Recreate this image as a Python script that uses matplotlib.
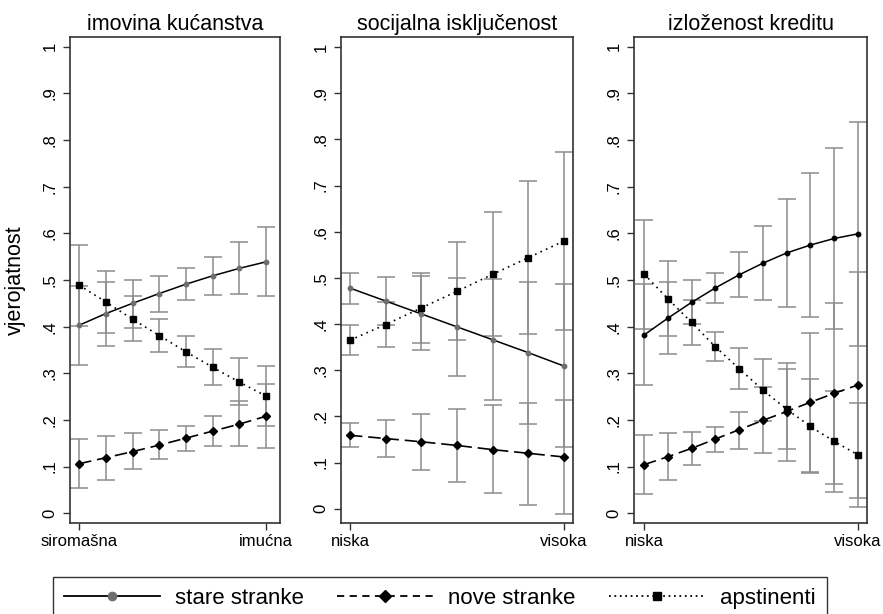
import numpy as np
import matplotlib
matplotlib.use("Agg")
import matplotlib.pyplot as plt
from matplotlib.lines import Line2D

plt.rcParams['font.family'] = ['Liberation Sans', 'DejaVu Sans']

# ===== DATA =====
titles = ["imovina kućanstva", "socijalna isključenost", "izloženost kreditu"]
end_labels = [("siromašna", "imućna"), ("niska", "visoka"), ("niska", "visoka")]
series_names = ["stare stranke", "nove stranke", "apstinenti"]
y_ticks = [0, 0.1, 0.2, 0.3, 0.4, 0.5, 0.6, 0.7, 0.8, 0.9, 1.0]
y_tick_labels = ["0", ".1", ".2", ".3", ".4", ".5", ".6", ".7", ".8", ".9", "1"]

# imovina kućanstva
stare1 = [0.403, 0.428, 0.450, 0.471, 0.491, 0.509, 0.525, 0.539]
stare1_lo = [0.318, 0.359, 0.398, 0.432, 0.457, 0.468, 0.470, 0.466]
stare1_hi = [0.488, 0.495, 0.501, 0.509, 0.525, 0.550, 0.581, 0.614]
nove1 = [0.106, 0.119, 0.132, 0.146, 0.161, 0.176, 0.191, 0.208]
nove1_lo = [0.053, 0.072, 0.094, 0.117, 0.134, 0.144, 0.145, 0.140]
nove1_hi = [0.160, 0.166, 0.172, 0.178, 0.188, 0.209, 0.240, 0.277]
apst1 = [0.489, 0.453, 0.416, 0.381, 0.346, 0.313, 0.281, 0.251]
apst1_lo = [0.402, 0.386, 0.369, 0.346, 0.314, 0.274, 0.231, 0.188]
apst1_hi = [0.576, 0.520, 0.466, 0.416, 0.379, 0.353, 0.333, 0.315]

# socijalna isključenost
stare2 = [0.478, 0.450, 0.422, 0.394, 0.366, 0.338, 0.309]
stare2_lo = [0.444, 0.398, 0.343, 0.288, 0.235, 0.183, 0.134]
stare2_hi = [0.511, 0.502, 0.504, 0.500, 0.497, 0.492, 0.487]
nove2 = [0.159, 0.152, 0.145, 0.137, 0.128, 0.120, 0.112]
nove2_lo = [0.133, 0.111, 0.084, 0.058, 0.033, 0.009, -0.012]
nove2_hi = [0.186, 0.193, 0.205, 0.216, 0.224, 0.230, 0.235]
apst2 = [0.365, 0.399, 0.435, 0.471, 0.508, 0.544, 0.580]
apst2_lo = [0.333, 0.350, 0.360, 0.366, 0.374, 0.379, 0.387]
apst2_hi = [0.397, 0.448, 0.510, 0.577, 0.642, 0.709, 0.772]

# izloženost kreditu
stare3 = [0.382, 0.418, 0.452, 0.483, 0.511, 0.536, 0.558, 0.575, 0.589, 0.599]
stare3_lo = [0.275, 0.341, 0.405, 0.450, 0.463, 0.457, 0.443, 0.421, 0.394, 0.359]
stare3_hi = [0.491, 0.495, 0.500, 0.516, 0.559, 0.615, 0.673, 0.729, 0.784, 0.838]
nove3 = [0.104, 0.121, 0.139, 0.159, 0.179, 0.199, 0.218, 0.238, 0.257, 0.275]
nove3_lo = [0.041, 0.071, 0.103, 0.132, 0.138, 0.129, 0.111, 0.089, 0.063, 0.032]
nove3_hi = [0.168, 0.171, 0.175, 0.184, 0.216, 0.270, 0.323, 0.386, 0.451, 0.518]
apst3 = [0.513, 0.460, 0.409, 0.357, 0.310, 0.264, 0.223, 0.186, 0.154, 0.125]
apst3_lo = [0.396, 0.380, 0.360, 0.327, 0.266, 0.197, 0.137, 0.087, 0.045, 0.013]
apst3_hi = [0.629, 0.540, 0.458, 0.388, 0.354, 0.331, 0.310, 0.287, 0.263, 0.237]

panels = [
    [(stare1, stare1_lo, stare1_hi), (nove1, nove1_lo, nove1_hi), (apst1, apst1_lo, apst1_hi)],
    [(stare2, stare2_lo, stare2_hi), (nove2, nove2_lo, nove2_hi), (apst2, apst2_lo, apst2_hi)],
    [(stare3, stare3_lo, stare3_hi), (nove3, nove3_lo, nove3_hi), (apst3, apst3_lo, apst3_hi)],
]

# ===== LAYOUT (pixels of the 883x614 canvas) =====
W, H = 883, 614
boxes = [(70, 280), (341, 573), (634, 867)]
top_px, bottom_px = 37, 523
x_pad = [(-0.34, 0.52), (-0.25, 0.25), (-0.42, 0.38)]
y_lims = [(-0.021, 1.021), (-0.031, 1.022), (-0.021, 1.021)]

bar_color = '#8c8c8c'
spine_color = '#333333'
line_styles = ['-', (0, (7.5, 3.5)), (0, (1, 2.6))]
markers = ['o', 'D', 's']
marker_sizes = [3.2, 3.6, 4.0]
stare_marker_colors = ['#6e6e6e', '#6e6e6e', 'black']

fig = plt.figure(figsize=(W / 100, H / 100), dpi=100)

for p, (series, title, ends) in enumerate(zip(panels, titles, end_labels)):
    left, right = boxes[p]
    ax = fig.add_axes([left / W, 1 - bottom_px / H,
                       (right - left) / W, (bottom_px - top_px) / H])
    n = len(series[0][0])
    x = np.arange(n)

    # confidence intervals first, lines on top
    for mid, lo, hi in series:
        mid, lo, hi = np.array(mid), np.array(lo), np.array(hi)
        ax.errorbar(x, mid, yerr=[mid - lo, hi - mid],
                    fmt='none', ecolor=bar_color, elinewidth=1.1,
                    capsize=6.5, capthick=1.1, zorder=1)

    for s, (mid, lo, hi) in enumerate(series):
        mcol = stare_marker_colors[p] if s == 0 else 'black'
        ax.plot(x, mid, color='black', linestyle=line_styles[s],
                linewidth=1.1 if s == 0 else 1.2,
                marker=markers[s], markersize=marker_sizes[s],
                markerfacecolor=mcol, markeredgecolor=mcol, zorder=3)

    ax.set_xlim(x_pad[p][0], n - 1 + x_pad[p][1])
    ax.set_ylim(*y_lims[p])
    ax.set_xticks([0, n - 1])
    ax.set_xticklabels(list(ends), fontsize=12)
    ax.set_yticks(y_ticks)
    ax.set_yticklabels(y_tick_labels, fontsize=12, rotation=90, va='center')
    ax.tick_params(axis='both', direction='out', length=5, width=1,
                   color=spine_color, pad=3)
    ax.tick_params(axis='y', pad=4)
    for sp in ax.spines.values():
        sp.set_color(spine_color)
        sp.set_linewidth(1.2)
    ax.set_title(title, fontsize=15.5, pad=5)

fig.text(15 / W, 1 - 280 / H, "vjerojatnost", rotation=90,
         ha='center', va='center', fontsize=15.5)

# ===== LEGEND =====
handles = [
    Line2D([], [], color='black', linestyle='-', linewidth=1.3,
           marker='o', markersize=6, markerfacecolor='#6e6e6e', markeredgecolor='#6e6e6e'),
    Line2D([], [], color='black', linestyle=(0, (4, 3)), linewidth=1.3,
           marker='D', markersize=6, markerfacecolor='black', markeredgecolor='black'),
    Line2D([], [], color='black', linestyle=(0, (1, 2)), linewidth=1.3,
           marker='s', markersize=6, markerfacecolor='black', markeredgecolor='black'),
]
leg = fig.legend(handles, series_names, loc='upper center',
                 bbox_to_anchor=(440 / W, 1 - 577 / H), ncol=3,
                 frameon=True, fancybox=False, edgecolor='black',
                 fontsize=16, handlelength=4.3, handletextpad=0.7,
                 columnspacing=1.5, borderpad=0.5, borderaxespad=0,
                 numpoints=1)
leg.get_frame().set_linewidth(1.0)

fig.savefig("out.png", dpi=100)
